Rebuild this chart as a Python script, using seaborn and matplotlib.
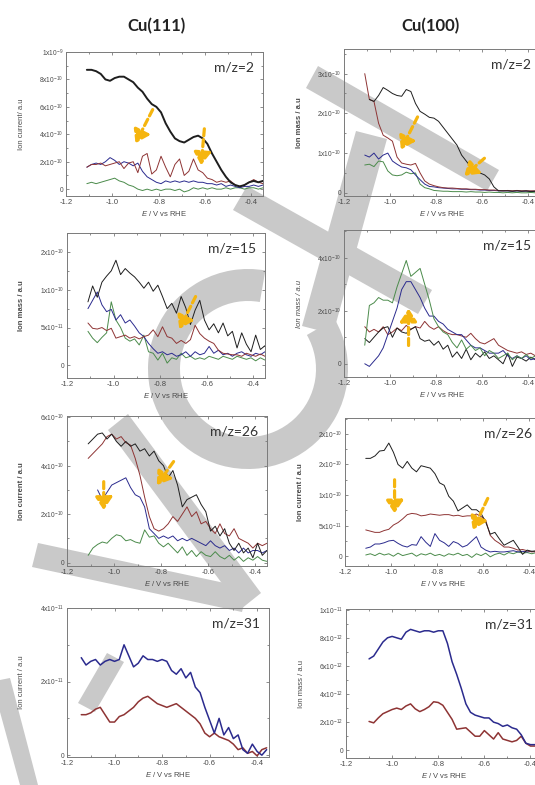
import numpy as np
import pandas as pd
import matplotlib
matplotlib.use('Agg')
import matplotlib.pyplot as plt
import matplotlib.patches as mpatches
import matplotlib.transforms as mtransforms
from matplotlib.ticker import MultipleLocator
import seaborn as sns

# potential grids (V vs RHE)
volt = [-1.11, -1.09, -1.07, -1.05, -1.03, -1.01, -0.99, -0.97, -0.95, -0.93,
        -0.91, -0.89, -0.87, -0.85, -0.83, -0.81, -0.79, -0.77, -0.75, -0.73,
        -0.71, -0.69, -0.67, -0.65, -0.63, -0.61, -0.59, -0.57, -0.55, -0.53,
        -0.51, -0.49, -0.47, -0.45, -0.43, -0.41, -0.39, -0.37, -0.35]
volt31_111 = [-1.14, -1.12, -1.10, -1.08, -1.06, -1.04, -1.02, -1.00, -0.98, -0.96,
              -0.94, -0.92, -0.90, -0.88, -0.86, -0.84, -0.82, -0.80, -0.78, -0.76,
              -0.74, -0.72, -0.70, -0.68, -0.66, -0.64, -0.62, -0.60, -0.58, -0.56,
              -0.54, -0.52, -0.50, -0.48, -0.46, -0.44, -0.42, -0.40, -0.38, -0.36]
volt31_100 = [-1.10, -1.08, -1.06, -1.04, -1.02, -1.00, -0.98, -0.96, -0.94, -0.92,
              -0.90, -0.88, -0.86, -0.84, -0.82, -0.80, -0.78, -0.76, -0.74, -0.72,
              -0.70, -0.68, -0.66, -0.64, -0.62, -0.60, -0.58, -0.56, -0.54, -0.52,
              -0.50, -0.48, -0.46, -0.44, -0.42, -0.40, -0.38, -0.36]
nan = np.nan

# Cu(111) m/z=2  (x1e-10)
cu111_mz2_black = [8.7, 8.7, 8.6, 8.4, 8.0, 7.9, 8.1, 8.2, 8.2, 8.0, 7.8, 7.4, 7.1, 6.6, 6.2, 6.0, 5.6, 4.8, 4.2, 3.7,
                   3.5, 3.4, 3.6, 3.8, 3.9, 3.7, 3.3, 2.6, 2.0, 1.4, 0.9, 0.5, 0.3, 0.2, 0.3, 0.5, 0.6, 0.5, 0.6]
cu111_mz2_red = [1.6, 1.8, 1.8, 1.9, 1.7, 1.8, 1.9, 2.0, 1.5, 1.9, 2.0, 1.2, 2.4, 2.6, 1.1, 1.4, 2.4, 1.6, 0.9, 1.8,
                 2.2, 1.0, 1.3, 2.2, 1.4, 1.2, 0.8, 0.7, 0.5, 0.6, 0.5, 0.6, 0.3, 0.2, 0.3, 0.5, 0.7, 0.5, 0.4]
cu111_mz2_blue = [1.6, 1.8, 1.9, 1.8, 2.0, 2.3, 2.1, 1.8, 2.0, 1.9, 1.7, 1.9, 1.3, 0.9, 0.7, 0.5, 0.4, 0.6, 0.5, 0.6,
                  0.5, 0.6, 0.5, 0.6, 0.5, 0.5, 0.4, 0.4, 0.3, 0.4, 0.2, 0.3, 0.2, 0.1, 0.2, 0.2, 0.3, 0.2, 0.3]
cu111_mz2_green = [0.4, 0.5, 0.4, 0.5, 0.6, 0.7, 0.8, 0.6, 0.5, 0.3, 0.2, 0.0, -0.1, 0.0, -0.1, 0.0, -0.1, 0.0, 0.0, -0.1,
                   0.0, -0.2, -0.1, 0.1, 0.0, 0.1, 0.0, 0.1, 0.0, 0.0, 0.1, 0.0, 0.1, 0.1, 0.0, 0.1, 0.1, 0.0, 0.1]

# Cu(100) m/z=2  (x1e-10)
cu100_mz2_black = [nan, 2.35, 2.3, 2.45, 2.65, 2.58, 2.5, 2.45, 2.43, 2.6, 2.55, 2.25, 2.05, 1.98, 1.9, 1.88, 1.8, 1.65, 1.5, 1.35,
                   1.2, 0.95, 0.8, 0.65, 0.6, 0.5, 0.45, 0.35, 0.15, 0.05, 0.05, 0.05, 0.04, 0.05, 0.04, 0.05, 0.03, 0.04, 0.03]
cu100_mz2_red = [3.0, 2.35, 2.3, 1.75, 1.45, 1.38, 1.3, 0.9, 0.75, 0.72, 0.7, 0.74, 0.5, 0.3, 0.22, 0.18, 0.15, 0.13, 0.12, 0.12,
                 0.11, 0.1, 0.1, 0.09, 0.09, 0.08, 0.08, 0.07, 0.07, 0.06, 0.05, 0.06, 0.05, 0.06, 0.05, 0.05, 0.05, 0.05, 0.04]
cu100_mz2_blue = [0.95, 0.9, 1.0, 0.85, 0.95, 1.0, 0.8, 0.72, 0.65, 0.63, 0.58, 0.45, 0.33, 0.22, 0.16, 0.15, 0.13, 0.12, 0.11, 0.1,
                  0.1, 0.09, 0.09, 0.08, 0.08, 0.07, 0.07, 0.06, 0.06, 0.05, 0.05, 0.05, 0.04, 0.05, 0.04, 0.04, 0.04, 0.04, 0.04]
cu100_mz2_green = [0.7, 0.72, 0.66, 0.8, 0.78, 0.55, 0.45, 0.43, 0.45, 0.52, 0.48, 0.5, 0.22, 0.13, 0.1, 0.06, 0.05, 0.04, 0.04, 0.03,
                   0.03, 0.03, 0.02, 0.03, 0.02, 0.02, 0.01, 0.02, 0.01, 0.01, 0.0, 0.01, 0.0, 0.01, 0.0, 0.0, 0.01, 0.0, 0.0]

# Cu(111) m/z=15  (x1e-11)
cu111_mz15_black = [8.4, 10.5, 9.0, 11.0, 11.8, 12.5, 13.9, 12.0, 12.8, 12.2, 11.7, 11.0, 10.2, 11.0, 9.8, 10.6, 9.1, 7.5, 8.2, 6.9,
                    9.1, 7.6, 5.4, 7.3, 8.6, 6.0, 4.7, 5.5, 4.3, 5.6, 3.9, 4.5, 2.3, 4.3, 2.8, 1.8, 4.0, 2.1, 2.6]
cu111_mz15_blue = [7.5, 8.6, 9.7, 8.0, 7.1, 7.4, 6.0, 6.7, 5.6, 6.0, 5.2, 4.3, 3.8, 2.9, 2.2, 1.6, 1.8, 1.4, 1.6, 1.2,
                   1.4, 1.8, 1.2, 1.8, 1.4, 1.6, 2.5, 1.6, 2.0, 1.4, 1.6, 1.2, 1.6, 1.8, 1.4, 1.2, 1.6, 1.4, 1.8]
cu111_mz15_red = [5.6, 4.9, 4.8, 5.0, 4.6, 4.9, 3.6, 3.8, 4.0, 3.6, 3.8, 3.5, 3.8, 4.0, 4.7, 3.8, 5.1, 3.8, 3.6, 2.9,
                  3.3, 2.9, 3.4, 5.3, 4.2, 3.6, 3.2, 2.9, 2.0, 1.6, 1.5, 1.4, 1.4, 1.2, 1.6, 1.4, 1.2, 1.5, 1.2]
cu111_mz15_green = [4.5, 3.6, 3.0, 3.7, 4.3, 8.4, 6.0, 5.0, 3.6, 3.2, 3.5, 2.7, 4.0, 1.8, 1.6, 0.7, 1.6, 0.3, 1.0, 0.8,
                    1.6, 1.0, 1.2, 0.8, 1.0, 0.8, 1.2, 1.0, 0.8, 1.2, 1.0, 0.8, 1.2, 1.0, 0.8, 1.0, 0.6, 1.0, 0.7]

# Cu(100) m/z=15  (x1e-10)
cu100_mz15_green = [0.7, 2.2, 2.3, 2.5, 2.4, 2.4, 2.3, 2.9, 3.4, 3.9, 3.3, 3.45, 3.6, 3.0, 2.4, 1.7, 1.4, 1.2, 1.1, 0.8,
                    0.6, 0.9, 0.55, 0.7, 0.5, 0.6, 0.3, 0.5, 0.4, 0.2, 0.3, 0.4, 0.15, 0.3, 0.2, 0.35, 0.2, 0.3, 0.2]
cu100_mz15_blue = [0.0, -0.1, 0.1, 0.3, 0.6, 1.1, 1.6, 2.1, 2.8, 3.1, 3.1, 2.8, 2.5, 2.1, 1.8, 1.8, 1.6, 1.5, 1.3, 1.2,
                   1.1, 1.1, 0.9, 0.7, 0.6, 0.6, 0.5, 0.4, 0.4, 0.4, 0.5, 0.3, 0.2, 0.3, 0.2, 0.3, 0.15, 0.2, 0.15]
cu100_mz15_red = [1.4, 1.2, 1.3, 1.2, 1.4, 1.1, 1.2, 1.35, 1.25, 1.45, 1.3, 1.4, 1.35, 1.6, 1.4, 1.3, 1.4, 1.25, 1.15, 1.1,
                  1.1, 1.05, 1.0, 1.15, 0.95, 0.8, 0.75, 0.85, 0.95, 0.7, 0.6, 0.5, 0.45, 0.4, 0.45, 0.35, 0.4, 0.3, 0.35]
cu100_mz15_black = [0.95, 0.8, 1.0, 1.2, 1.35, 1.4, 1.0, 1.35, 1.2, 1.15, 1.3, 1.4, 0.95, 0.85, 0.9, 0.7, 0.85, 0.55, 0.7, 0.25,
                    0.45, 0.2, 0.55, 0.15, 0.4, 0.25, 0.45, 0.2, 0.3, 0.15, 0.0, 0.4, -0.1, 0.25, 0.2, 0.1, 0.25, 0.15, 0.2]

# Cu(111) m/z=26  (x1e-10)
cu111_mz26_black = [4.9, 5.1, 5.3, 5.35, 5.1, 5.3, 5.0, 4.8, 5.0, 4.8, 4.9, 4.6, 4.7, 4.4, 4.6, 4.2, 4.0, 3.5, 3.8, 3.2,
                    2.3, 2.6, 2.7, 2.8, 2.4, 2.1, 1.3, 1.5, 1.1, 1.4, 0.8, 0.5, 0.8, 0.4, 0.6, 0.2, 0.8, 0.3, 0.5]
cu111_mz26_red = [4.3, 4.5, 4.7, 4.9, 5.2, 5.3, 5.1, 5.2, 4.95, 4.85, 4.3, 3.6, 2.7, 1.9, 1.4, 1.3, 1.4, 1.6, 1.9, 1.7,
                  2.0, 2.3, 1.9, 2.1, 1.6, 1.7, 1.4, 1.2, 1.6, 1.2, 1.1, 1.4, 1.0, 0.9, 0.8, 0.6, 0.8, 0.7, 0.8]
cu111_mz26_blue = [nan, nan, 3.0, 2.6, 2.9, 3.2, 3.3, 3.4, 3.5, 3.1, 2.8, 2.7, 2.3, 1.4, 1.2, 1.0, 1.1, 1.0, 1.1, 0.9,
                   1.0, 0.9, 1.0, 0.9, 0.8, 0.7, 0.9, 0.7, 0.6, 0.7, 0.5, 0.6, 0.4, 0.6, 0.4, 0.5, 0.5, 0.4, 0.5]
cu111_mz26_green = [0.3, 0.6, 0.75, 0.85, 0.8, 1.0, 1.15, 1.1, 0.9, 0.95, 0.85, 0.8, 1.35, 1.05, 1.1, 0.8, 0.65, 0.8, 0.6, 0.4,
                    0.65, 0.3, 0.5, 0.25, 0.45, 0.3, 0.25, 0.45, 0.25, 0.15, 0.3, 0.1, 0.25, 0.05, 0.2, 0.1, 0.25, 0.1, 0.05]

# Cu(100) m/z=26  (x1e-11)
cu100_mz26_black = [16.0, 16.0, 16.4, 17.2, 17.3, 18.5, 17.0, 15.0, 14.4, 15.5, 14.4, 13.8, 14.8, 14.6, 14.4, 13.5, 12.0, 11.6, 9.8, 9.0,
                    7.4, 7.9, 8.4, 7.6, 7.6, 7.0, 5.6, 3.6, 3.9, 2.8, 1.8, 2.2, 2.6, 1.5, 0.3, 1.0, 0.8, 0.9, 0.6]
cu100_mz26_red = [4.3, 4.1, 3.9, 3.9, 4.2, 4.4, 5.1, 5.5, 6.1, 6.8, 7.0, 6.9, 6.6, 6.7, 6.9, 6.8, 6.7, 6.8, 6.8, 6.6,
                  6.7, 6.5, 6.6, 6.6, 6.9, 6.5, 5.9, 3.4, 2.6, 2.1, 1.5, 1.5, 1.3, 1.0, 1.1, 0.9, 0.7, 0.8, 0.7]
cu100_mz26_blue = [1.3, 1.5, 2.0, 2.0, 2.2, 2.5, 2.6, 2.1, 1.7, 1.5, 1.9, 1.8, 3.2, 2.3, 1.6, 3.7, 2.6, 2.2, 1.6, 2.4,
                   2.1, 1.5, 1.8, 2.5, 3.2, 1.5, 1.0, 0.7, 0.8, 0.7, 0.7, 0.8, 0.9, 0.7, 0.8, 0.7, 0.8, 0.7, 0.7]
cu100_mz26_green = [0.2, 0.4, 0.1, 0.5, 0.2, 0.4, 0.0, 0.5, 0.1, 0.3, 0.5, 0.0, 0.4, 0.2, 0.5, 0.1, 0.3, 0.0, 0.4, 0.2,
                    0.5, 0.1, 0.3, -0.2, 0.4, 0.1, 0.5, -0.1, 0.3, 0.5, 0.2, 0.6, 0.4, 0.7, 0.5, 0.6, 0.4, 0.6, 0.5]

# Cu(111) m/z=31  (x1e-11)
cu111_mz31_blue = [2.65, 2.45, 2.55, 2.6, 2.45, 2.55, 2.6, 2.55, 2.6, 3.0, 2.7, 2.4, 2.5, 2.7, 2.6, 2.6, 2.55, 2.6, 2.55, 2.3,
                   2.2, 2.35, 2.1, 2.25, 1.85, 1.7, 1.3, 0.95, 0.6, 1.0, 0.55, 0.75, 0.45, 0.55, 0.15, 0.05, 0.3, 0.1, 0.0, 0.15]
cu111_mz31_red = [1.1, 1.1, 1.15, 1.25, 1.3, 1.1, 0.9, 0.9, 1.05, 1.1, 1.2, 1.3, 1.45, 1.55, 1.6, 1.5, 1.4, 1.35, 1.3, 1.35,
                  1.4, 1.3, 1.2, 1.1, 1.0, 0.85, 0.6, 0.5, 0.6, 0.5, 0.45, 0.4, 0.3, 0.15, 0.2, 0.05, 0.1, -0.02, 0.15, 0.2]

# Cu(100) m/z=31  (x1e-12)
cu100_mz31_blue = [6.5, 6.7, 7.2, 7.7, 8.0, 8.1, 8.0, 7.9, 8.4, 8.6, 8.5, 8.4, 8.5, 8.5, 8.4, 8.5, 8.5, 7.6, 6.3, 5.4,
                   4.4, 3.3, 2.7, 2.5, 2.4, 2.3, 2.3, 2.0, 1.9, 1.7, 1.8, 1.6, 1.5, 1.1, 0.5, 0.4, 0.4, 0.5]
cu100_mz31_red = [2.05, 1.95, 2.3, 2.6, 2.75, 2.9, 3.0, 2.9, 3.15, 3.3, 2.95, 2.75, 2.9, 3.1, 3.45, 3.4, 3.2, 2.7, 2.2, 1.5,
                  1.55, 1.6, 1.3, 1.0, 1.0, 1.4, 1.1, 0.8, 1.25, 0.8, 0.7, 0.6, 0.7, 1.0, 0.5, 0.3, 0.3, 0.4]

xtick_vals = [-1.2, -1.0, -0.8, -0.6, -0.4]
xtick_text = ['-1.2', '-1.0', '-0.8', '-0.6', '-0.4']

col = {'black': '#1e1e1e', 'red': '#8e3434', 'blue': '#2b2b8e', 'green': '#4b8b4b'}
arrow_col = '#F5B50F'

panels = [
    dict(box=(66, 52, 263, 196), x=volt,
         traces=[('green', cu111_mz2_green, .7), ('blue', cu111_mz2_blue, .7),
                 ('red', cu111_mz2_red, .7), ('black', cu111_mz2_black, 1.4)],
         ylim=(-0.5, 10.0), yt=[0, 2, 4, 6, 8, 10], ym=1,
         ytl=['0', '$2x10^{-10}$', '$4x10^{-10}$', '$6x10^{-10}$', '$8x10^{-10}$', '$1x10^{-9}$'],
         ylabel='Ion current/ a.u', yw='normal', ys='normal', mz='m/z=2',
         arrows=[((-0.826, 5.8), (-0.90, 3.35)), ((-0.603, 4.4), (-0.617, 1.75))]),
    dict(box=(344, 49, 540, 196), x=volt,
         traces=[('green', cu100_mz2_green, .7), ('blue', cu100_mz2_blue, .7),
                 ('red', cu100_mz2_red, .7), ('black', cu100_mz2_black, .7)],
         ylim=(-0.08, 3.62), yt=[0, 1, 2, 3], ym=0.5,
         ytl=['0', '$1x10^{-10}$', '$2x10^{-10}$', '$3x10^{-10}$'],
         ylabel='Ion mass / a.u', yw='bold', ys='normal', mz='m/z=2',
         arrows=[((-0.881, 1.91), (-0.953, 1.09)), ((-0.591, 0.87), (-0.678, 0.43))]),
    dict(box=(67, 233, 265, 378), x=volt,
         traces=[('green', cu111_mz15_green, .7), ('blue', cu111_mz15_blue, .7),
                 ('red', cu111_mz15_red, .7), ('black', cu111_mz15_black, .7)],
         ylim=(-1.67, 17.5), yt=[0, 5, 10, 15], ym=2.5,
         ytl=['0', '$5x10^{-11}$', '$1x10^{-10}$', '$2x10^{-10}$'],
         ylabel='Ion mass / a.u', yw='bold', ys='normal', mz='m/z=15',
         arrows=[((-0.648, 9.1), (-0.718, 4.8))]),
    dict(box=(344, 230, 540, 377), x=volt,
         traces=[('red', cu100_mz15_red, .7), ('black', cu100_mz15_black, .7),
                 ('blue', cu100_mz15_blue, .7), ('green', cu100_mz15_green, .7)],
         ylim=(-0.5, 5.05), yt=[0, 2, 4], ym=1,
         ytl=['0', '$2x10^{-10}$', '$4x10^{-10}$'],
         ylabel='Ion mass / a.u', yw='normal', ys='italic', mz='m/z=15',
         arrows=[((-0.92, 0.69), (-0.92, 2.08))]),
    dict(box=(67, 416, 267, 566), x=volt,
         traces=[('green', cu111_mz26_green, .7), ('blue', cu111_mz26_blue, .7),
                 ('red', cu111_mz26_red, .7), ('black', cu111_mz26_black, .7)],
         ylim=(-0.14, 6.05), yt=[0, 2, 4, 6], ym=1,
         ytl=['0', '$2x10^{-10}$', '$4x10^{-10}$', '$6x10^{-10}$'],
         ylabel='Ion current / a.u', yw='bold', ys='normal', mz='m/z=26',
         arrows=[((-1.044, 3.34), (-1.044, 2.17)), ((-0.747, 4.17), (-0.818, 3.2))]),
    dict(box=(345, 418, 541, 566), x=volt,
         traces=[('green', cu100_mz26_green, .7), ('blue', cu100_mz26_blue, .7),
                 ('red', cu100_mz26_red, .7), ('black', cu100_mz26_black, .7)],
         ylim=(-1.6, 22.6), yt=[0, 5, 10, 15, 20], ym=2.5,
         ytl=['0', '$5x10^{-11}$', '$1x10^{-10}$', '$2x10^{-10}$', '$2x10^{-10}$'],
         ylabel='Ion current / a.u', yw='bold', ys='normal', mz='m/z=26',
         arrows=[((-0.985, 12.5), (-0.985, 7.0)), ((-0.581, 9.45), (-0.646, 4.3))]),
    dict(box=(67, 608, 269, 757), x=volt31_111,
         traces=[('red', cu111_mz31_red, 1.1), ('blue', cu111_mz31_blue, 1.1)],
         ylim=(-0.05, 4.0), yt=[0, 2, 4], ym=1,
         ytl=['0', '$2x10^{-11}$', '$4x10^{-11}$'],
         ylabel='Ion current / a.u', yw='normal', ys='normal', mz='m/z=31', arrows=[]),
    dict(box=(346, 609, 542, 758), x=volt31_100,
         traces=[('red', cu100_mz31_red, 1.1), ('blue', cu100_mz31_blue, 1.1)],
         ylim=(-0.55, 10.05), yt=[0, 2, 4, 6, 8, 10], ym=1,
         ytl=['0', '$2x10^{-12}$', '$4x10^{-12}$', '$6x10^{-12}$', '$8x10^{-12}$', '$1x10^{-11}$'],
         ylabel='Ion mass / a.u', yw='normal', ys='normal', mz='m/z=31', arrows=[]),
]

sns.set_theme(style='ticks')
plt.rcParams['font.family'] = ['Liberation Sans', 'DejaVu Sans']
plt.rcParams['mathtext.fontset'] = 'custom'
plt.rcParams['mathtext.rm'] = 'Liberation Sans'
plt.rcParams['mathtext.it'] = 'Liberation Sans:italic'
plt.rcParams['mathtext.bf'] = 'Liberation Sans:bold'
plt.rcParams['mathtext.default'] = 'regular'

W, H = 535, 785
fig = plt.figure(figsize=(W / 100, H / 100), dpi=100)
fig.patch.set_facecolor('white')

# grey watermark shapes, in pixel coordinates (origin top-left)
T = mtransforms.Affine2D().scale(1 / W, 1 / H) + fig.transFigure
gray = '#c9c9c9'
bands = [
    [(318, 66), (499, 170), (487, 191), (306, 88)],
    [(247, 186), (432, 290), (418, 314), (233, 210)],
    [(387, 139), (356, 131), (302, 326), (333, 334)],
    [(128, 414), (261, 593), (241, 609), (108, 430)],
    [(38, 543), (248, 588), (242, 612), (32, 567)],
    [(0, 680), (10, 678), (38, 785), (20, 785), (0, 712)],
    [(78, 703), (107, 653), (124, 662), (95, 712)],
]
for pts in bands:
    fig.add_artist(mpatches.Polygon([(px, H - py) for px, py in pts], closed=True,
                                    transform=T, facecolor=gray, edgecolor='none', zorder=-1))
fig.add_artist(mpatches.Wedge((248, H - 369), 100, 80, 390, width=32, transform=T,
                              facecolor=gray, edgecolor='none', zorder=-1))

for p in panels:
    l, t, r, b = p['box']
    ax = fig.add_axes([l / W, 1 - b / H, (r - l) / W, (b - t) / H])
    ax.set_facecolor('none')
    for name, vals, lw in p['traces']:
        d = pd.DataFrame({'E': p['x'], 'I': vals}).dropna()
        sns.lineplot(data=d, x='E', y='I', color=col[name], lw=lw, ax=ax,
                     estimator=None, sort=False, legend=False)
    for tail, tip in p['arrows']:
        ax.annotate('', xy=tip, xytext=tail, zorder=6,
                    arrowprops=dict(arrowstyle='-|>,head_length=0.75,head_width=0.5',
                                    color=arrow_col, lw=2.3, ls=(0, (2.2, 1.2)),
                                    shrinkA=0, shrinkB=0, mutation_scale=10))
    ax.set_xlim(-1.2, -0.35)
    ax.set_ylim(*p['ylim'])
    ax.set_xticks(xtick_vals)
    ax.set_xticklabels(xtick_text)
    ax.set_yticks(p['yt'])
    ax.set_yticklabels(p['ytl'])
    ax.xaxis.set_minor_locator(MultipleLocator(0.1))
    ax.yaxis.set_minor_locator(MultipleLocator(p['ym']))
    ax.tick_params(which='both', direction='in', top=True, right=True,
                   colors='#7a7a7a', labelcolor='#4a4a4a', width=0.6, pad=2)
    ax.tick_params(which='major', length=2.5)
    ax.tick_params(which='minor', length=1.5)
    ax.tick_params(axis='x', labelsize=5.5)
    ax.tick_params(axis='y', labelsize=4.8)
    for s in ax.spines.values():
        s.set_color('#7a7a7a')
        s.set_linewidth(0.7)
    ax.set_xlabel(r'$\mathit{E}$ / V vs RHE', fontsize=5.5, color='#4a4a4a', labelpad=2)
    ax.set_ylabel(p['ylabel'], fontsize=5.5, color='#4a4a4a',
                  fontweight=p['yw'], fontstyle=p['ys'])
    ax.yaxis.set_label_coords(-0.21, 0.5)
    ax.text(0.955, 0.895, p['mz'], transform=ax.transAxes, ha='right', va='center',
            fontsize=10, color='#333333', family=['Lato', 'DejaVu Sans'])

fig.text(157 / W, 1 - 26 / H, 'Cu(111)', ha='center', va='center', fontsize=12,
         fontweight='bold', color='#222222', family=['Lato', 'DejaVu Sans'])
fig.text(430 / W, 1 - 26 / H, 'Cu(100)', ha='center', va='center', fontsize=12,
         fontweight='bold', color='#222222', family=['Lato', 'DejaVu Sans'])

fig.savefig('out.png', dpi=100)
